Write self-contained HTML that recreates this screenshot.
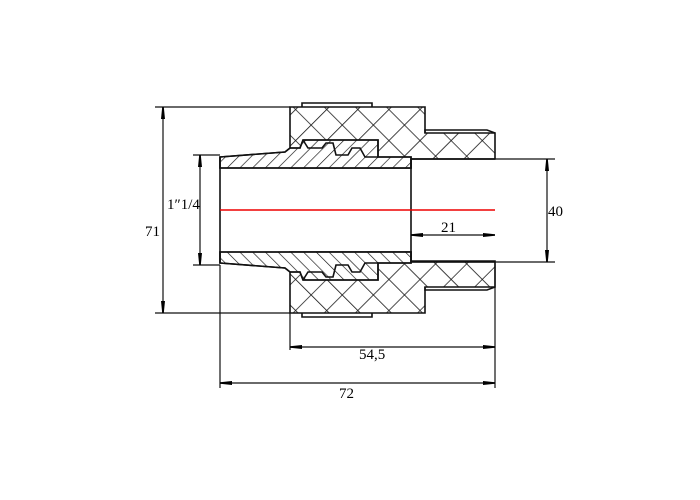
<!DOCTYPE html>
<html><head><style>html,body{margin:0;padding:0;background:#fff}svg{display:block}</style></head>
<body>
<svg width="700" height="500" viewBox="0 0 700 500" xmlns="http://www.w3.org/2000/svg">
<defs>
<pattern id="cross" width="22" height="22" patternUnits="userSpaceOnUse" patternTransform="rotate(45)">
<path d="M0 0H22M0 0V22" stroke="#111" stroke-width="1.6" fill="none"/>
</pattern>
<pattern id="diag" width="9" height="9" patternUnits="userSpaceOnUse" patternTransform="rotate(45)">
<path d="M0 0V9" stroke="#111" stroke-width="1.3"/>
</pattern>
<marker id="ar" markerWidth="12" markerHeight="8" refX="12" refY="4" orient="auto-start-reverse" markerUnits="userSpaceOnUse">
<path d="M0 2L12 3.2V4.8L0 6Z" fill="#000"/>
</marker>
</defs>
<g stroke="#111" stroke-width="1.6">
<g id="half">
<path d="M290 107H425V133H495V159H411V168H290Z" fill="url(#cross)"/>
<path d="M220 157L285 152L290 148H300L303 140H378V157H411V168H220Z" fill="#fff"/>
<path d="M220 157L285 152L290 148H300L303 140H378V157H411V168H220Z" fill="url(#diag)"/>
<path d="M303 140L308 148H322L326 143H333L336 155H348L352 148H360L365 157H378" fill="none"/>
<path d="M302 107V103H372V107" fill="none"/>
<path d="M425 133V130H487L495 133" fill="none"/>
</g>
<use href="#half" transform="translate(0,420) scale(1,-1)"/>
<path d="M220 157V263M411 159V262" fill="none"/>
<path d="M411 159H495M411 262H495" fill="none"/>
</g>
<g stroke="#111" stroke-width="1.2" fill="none">
<path d="M155 107H290M155 313H290"/>
<path d="M193 155H220M193 265H220"/>
<path d="M411 159H555M411 262H555"/>
<path d="M220 265V388M290 313V350M495 262V388"/>
<path d="M163 107V313" marker-start="url(#ar)" marker-end="url(#ar)"/>
<path d="M200 155V265" marker-start="url(#ar)" marker-end="url(#ar)"/>
<path d="M547 159V262" marker-start="url(#ar)" marker-end="url(#ar)"/>
<path d="M411 235H495" marker-start="url(#ar)" marker-end="url(#ar)"/>
<path d="M290 347H495" marker-start="url(#ar)" marker-end="url(#ar)"/>
<path d="M220 383H495" marker-start="url(#ar)" marker-end="url(#ar)"/>
</g>
<path d="M220 210H495" stroke="#e00" stroke-width="1.4"/>
<g font-family="Liberation Serif, serif" font-size="15" fill="#000">
<text x="145" y="236">71</text>
<text x="167" y="209">1″1/4</text>
<text x="441" y="232">21</text>
<text x="548" y="216">40</text>
<text x="359" y="359">54,5</text>
<text x="339" y="398">72</text>
</g>
</svg>
</body></html>
